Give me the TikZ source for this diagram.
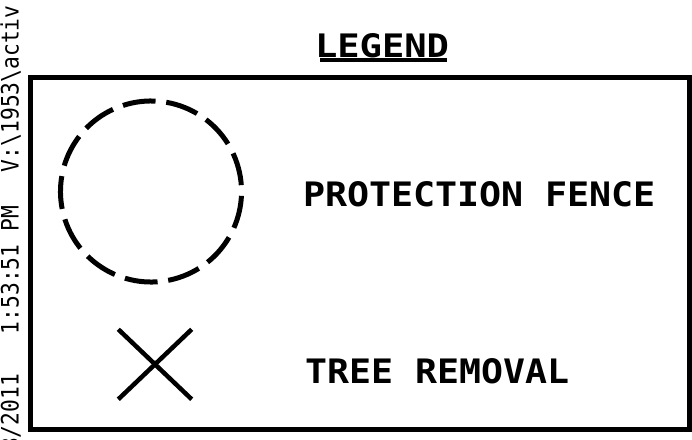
\documentclass[tikz,border=0pt]{standalone}
\usepackage{fontspec}
\setmonofont{DejaVu Sans Mono}
\begin{document}
\begin{tikzpicture}[x=1pt,y=-1pt,
  lbl/.style={inner sep=0pt, outer sep=0pt, anchor=base west, font=\ttfamily\bfseries},
  side/.style={inner sep=0pt, outer sep=0pt, rotate=90, font=\ttfamily\fontsize{24}{24}\selectfont},
  frame/.style={line width=5pt},
  fence/.style={line width=5pt, dash pattern=on 33pt off 10.74pt},
  xmark/.style={line width=4.5pt}]
\useasboundingbox (0,0) rectangle (692,439);
\fill[white] (0,0) rectangle (692,439);
\clip (0,0) rectangle (692,439);
% side stamp
\node[side, anchor=base east] (s1) at (18.5,374) {\scalebox{0.886}[1]{3/2011}};
\node[side, anchor=base west] (s2) at (18.5,334) {\scalebox{0.886}[1]{1:53:51 PM}};
\node[side, anchor=base west] (s3) at (18.5,172) {\scalebox{0.886}[1]{V:\textbackslash 1953\textbackslash activ}};
% title
\node[lbl] (title) at (315,57) {\resizebox{134pt}{24pt}{LEGEND}};
\draw[line width=4pt] (320,59.5) -- (447,59.5);
% frame
\draw[frame] (30.5,77.5) rectangle (689.5,429.5);
% protection fence symbol
\draw[fence] (151,191.5) ++(-108:90.5) arc[start angle=-108, end angle=252, radius=90.5];
\node[lbl] (pf) at (303,206.7) {\resizebox{353pt}{25pt}{PROTECTION FENCE}};
% tree removal symbol
\draw[xmark] (118.3,329.3) -- (191.7,399.3);
\draw[xmark] (191.7,329.3) -- (118.3,399.3);
\node[lbl] (tr) at (305,383) {\resizebox{264pt}{25pt}{TREE REMOVAL}};
\end{tikzpicture}
\end{document}
